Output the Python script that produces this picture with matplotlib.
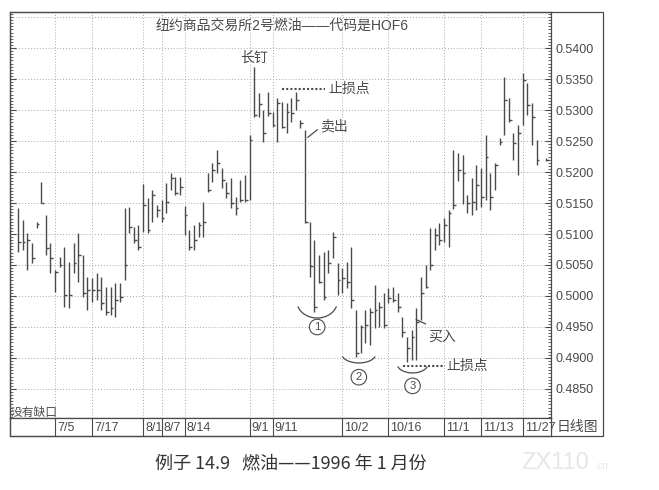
import matplotlib.pyplot as plt
import numpy as np
import pandas as pd
from matplotlib.patches import Rectangle

plt.rcParams['font.family'] = ['Liberation Sans', 'Noto Sans CJK SC', 'DejaVu Sans']

# trading days of the chart (NYMEX heating oil, Jan 1996 contract)
holidays = ['1995-07-04', '1995-09-04', '1995-11-23']
dates = pd.bdate_range('1995-06-22', '1995-12-04')
dates = dates[~dates.isin(pd.to_datetime(holidays))]

high = [0.5142, 0.5123, 0.5102, 0.5085, 0.5119, 0.5184, 0.5131, 0.5085, 0.5042, 0.5063,
        0.5079, 0.5055, 0.5085, 0.5102, 0.5066, 0.5031, 0.5029, 0.5037, 0.5031, 0.5015,
        0.5015, 0.5021, 0.5021, 0.5142, 0.5144, 0.5111, 0.5115, 0.5181, 0.5158, 0.5171,
        0.5147, 0.5155, 0.5182, 0.5198, 0.5192, 0.5192, 0.5145, 0.5106, 0.5115, 0.5119,
        0.5152, 0.5198, 0.5215, 0.5235, 0.5206, 0.5184, 0.5190, 0.5160, 0.5187, 0.5195,
        0.5260, 0.5369, 0.5327, 0.5300, 0.5329, 0.5297, 0.5319, 0.5313, 0.5311, 0.5319,
        0.5329, 0.5284, 0.5268, 0.5119, 0.5090, 0.5066, 0.5071, 0.5074, 0.5103, 0.5053,
        0.5045, 0.5055, 0.5079, 0.4977, 0.4953, 0.4977, 0.4981, 0.5018, 0.4990, 0.5005,
        0.5013, 0.5015, 0.5005, 0.4966, 0.4934, 0.4945, 0.4981, 0.5031, 0.5050, 0.5110,
        0.5110, 0.5118, 0.5126, 0.5139, 0.5235, 0.5231, 0.5227, 0.5163, 0.5190, 0.5211,
        0.5206, 0.5260, 0.5198, 0.5215, 0.5255, 0.5353, 0.5319, 0.5263, 0.5276, 0.5360,
        0.5344, 0.5311, 0.5252, np.nan, 0.5222]
low = [0.5071, 0.5074, 0.5042, 0.5053, 0.5110, 0.5150, 0.5066, 0.5037, 0.5006, 0.5047,
       0.4982, 0.4981, 0.5037, 0.5023, 0.4998, 0.4977, 0.4990, 0.4994, 0.4977, 0.4969,
       0.4969, 0.4966, 0.4990, 0.5026, 0.5102, 0.5085, 0.5074, 0.5103, 0.5102, 0.5119,
       0.5127, 0.5119, 0.5134, 0.5171, 0.5163, 0.5163, 0.5098, 0.5074, 0.5074, 0.5095,
       0.5095, 0.5168, 0.5184, 0.5198, 0.5174, 0.5158, 0.5142, 0.5131, 0.5152, 0.5152,
       0.5155, 0.5289, 0.5289, 0.5248, 0.5290, 0.5273, 0.5248, 0.5271, 0.5263, 0.5281,
       0.5300, 0.5271, 0.5118, 0.5031, 0.4974, 0.5021, 0.4994, 0.5037, 0.5061, 0.5002,
       0.5005, 0.5013, 0.4981, 0.4902, 0.4908, 0.4924, 0.4921, 0.4948, 0.4950, 0.4948,
       0.4989, 0.4990, 0.4974, 0.4934, 0.4894, 0.4897, 0.4897, 0.4961, 0.5013, 0.5042,
       0.5074, 0.5082, 0.5087, 0.5079, 0.5140, 0.5185, 0.5148, 0.5134, 0.5131, 0.5139,
       0.5144, 0.5155, 0.5139, 0.5171, 0.5244, 0.5260, 0.5281, 0.5219, 0.5195, 0.5276,
       0.5292, 0.5244, 0.5211, np.nan, 0.5218]
close = [0.5087, 0.5087, 0.5090, 0.5061, 0.5116, 0.5150, 0.5077, 0.5061, 0.5039, 0.5050,
         0.5002, 0.5002, 0.5053, 0.5066, 0.5005, 0.5010, 0.5010, 0.5010, 0.4989, 0.4974,
         0.4981, 0.4994, 0.4998, 0.5050, 0.5111, 0.5090, 0.5079, 0.5147, 0.5106, 0.5163,
         0.5139, 0.5126, 0.5152, 0.5190, 0.5166, 0.5176, 0.5131, 0.5079, 0.5090, 0.5115,
         0.5119, 0.5171, 0.5203, 0.5215, 0.5187, 0.5166, 0.5150, 0.5142, 0.5155, 0.5155,
         0.5252, 0.5292, 0.5310, 0.5263, 0.5295, 0.5276, 0.5311, 0.5273, 0.5297, 0.5295,
         0.5316, 0.5279, 0.5119, 0.5048, 0.4982, 0.5023, 0.4998, 0.5053, 0.5095, 0.5026,
         0.5029, 0.5023, 0.4994, 0.4908, 0.4950, 0.4953, 0.4974, 0.4977, 0.4982, 0.4953,
         0.4997, 0.4994, 0.4982, 0.4942, 0.4916, 0.4934, 0.4958, 0.5005, 0.5015, 0.5050,
         0.5098, 0.5090, 0.5115, 0.5134, 0.5147, 0.5203, 0.5198, 0.5150, 0.5152, 0.5179,
         0.5160, 0.5224, 0.5160, 0.5211, 0.5248, 0.5316, 0.5284, 0.5247, 0.5263, 0.5348,
         0.5308, 0.5289, 0.5219, np.nan, 0.5220]

label_dates = ['1995-07-05', '1995-07-17', '1995-08-01', '1995-08-07', '1995-08-14',
               '1995-09-01', '1995-09-11', '1995-10-02', '1995-10-16', '1995-11-01',
               '1995-11-13', '1995-11-27']
date_labels = ['7/5', '7/17', '8/1', '8/7', '8/14', '9/1', '9/11', '10/2', '10/16',
               '11/1', '11/13', '11/27']
price_ticks = [0.4850, 0.4900, 0.4950, 0.5000, 0.5050, 0.5100, 0.5150, 0.5200,
               0.5250, 0.5300, 0.5350, 0.5400]

ink = '#4a4a4a'
gridc = '#a8a8a8'
x = np.arange(len(dates))
seps = [dates.get_loc(pd.Timestamp(d)) for d in label_dates]

fig = plt.figure(figsize=(6.59, 4.90), dpi=100)
ax = fig.add_axes([10/659, 1-418/490, 541/659, 406/490])

ax.vlines(x, low, high, color=ink, lw=1.0)
ax.hlines(close, x, x + 0.6, color=ink, lw=1.0)

ax.set_xlim(-1.73, 115.1)
ax.set_ylim(0.48032, 0.54581)

# grid
for p in price_ticks + [0.5450]:
    ax.axhline(p, color=gridc, lw=0.7, ls=(0, (1, 2)), zorder=0)
for s in seps:
    ax.axvline(s, color=gridc, lw=0.7, ls=(0, (1, 2)), zorder=0)

ax.set_xticks([])
ax.yaxis.tick_right()
ax.set_yticks(price_ticks)
ax.set_yticklabels(['%.4f' % p for p in price_ticks], color=ink, fontsize=9)
ax.set_yticks(np.arange(0.4805, 0.5458, 0.0005), minor=True)
ax.tick_params(axis='y', which='major', left=True, right=True, direction='in',
               length=4, color=ink, pad=3)
ax.tick_params(axis='y', which='minor', left=True, right=True, direction='in',
               length=2, color=ink, width=0.6)
for sp in ax.spines.values():
    sp.set_color(ink)
    sp.set_linewidth(0.9)

cjk = ['Noto Sans CJK SC', 'DejaVu Sans']
ax.text(57, 0.5436, '纽约商品交易所2号燃油——代码是HOF6', ha='center', va='center',
        fontsize=10, color=ink)
ax.text(51, 0.5385, '长钉', ha='center', va='center', fontsize=10, color=ink, family=cjk)

# sell stop
ax.plot([57, 66.3], [0.5334, 0.5334], color=ink, lw=1.5, ls=(0, (1, 1)))
ax.text(67, 0.5334, '止损点', ha='left', va='center', fontsize=10, color=ink, family=cjk)
ax.text(65.3, 0.5273, '卖出', ha='left', va='center', fontsize=10, color=ink, family=cjk)
ax.plot([62.6, 64.6], [0.5256, 0.5268], color=ink, lw=0.9)

# buy
ax.text(88.5, 0.4934, '买入', ha='left', va='center', fontsize=10, color=ink, family=cjk)
ax.plot([86.0, 88.0], [0.4962, 0.4955], color=ink, lw=0.9)
ax.plot([83.2, 92.2], [0.4887, 0.4887], color=ink, lw=1.5, ls=(0, (1, 1)))
ax.text(92.6, 0.4887, '止损点', ha='left', va='center', fontsize=10, color=ink, family=cjk)

# bottoms ①②③
t = np.deg2rad(np.linspace(200, 340, 40))
for cx, cy, hw, hh, num, ny in [(64.6, 0.49915, 4.37, 0.0027, '1', 0.4950),
                                (73.6, 0.49066, 3.68, 0.00146, '2', 0.4869),
                                (85.2, 0.48905, 3.33, 0.00146, '3', 0.4855)]:
    ax.plot(cx + hw * np.cos(t), cy + hh * np.sin(t), color=ink, lw=0.9)
    ax.text(cx, ny, num, ha='center', va='center', fontsize=8, color=ink,
            bbox=dict(boxstyle='circle,pad=0.25', fc='white', ec=ink, lw=0.8))

ax.text(-1.5, 0.4812, '没有缺口', ha='left', va='center', fontsize=8.5, color=ink, family=cjk)

# date strip
ax2 = fig.add_axes([10/659, 1-436/490, 541/659, 18/490])
ax2.set_xlim(ax.get_xlim())
ax2.set_ylim(0, 1)
ax2.set_xticks([])
ax2.set_yticks([])
for s, lab in zip(seps, date_labels):
    ax2.axvline(s, color=ink, lw=0.8)
    ax2.text(s + 0.45, 0.45, lab, ha='left', va='center', fontsize=9, color=ink)
for sp in ax2.spines.values():
    sp.set_color(ink)
    sp.set_linewidth(0.9)
fig.text(557/659, 1-427/490, '日线图', ha='left', va='center', fontsize=10,
         color=ink, family=cjk)

fig.add_artist(Rectangle((10/659, 1-436/490), 593/659, 424/490, transform=fig.transFigure,
                         fill=False, ec=ink, lw=0.9))

fig.text(291/659, 1-463/490, '例子 14.9   燃油——1996 年 1 月份', ha='center', va='center',
         fontsize=13, color='#333333', family=cjk)
fig.text(555/659, 1-463/490, 'ZX110', ha='center', va='center', fontsize=17,
         color='#e6e6e6')
fig.text(595/659, 1-466/490, '.cn', ha='left', va='center', fontsize=7, color='#e6e6e6')

fig.savefig('out.png', dpi=100)
